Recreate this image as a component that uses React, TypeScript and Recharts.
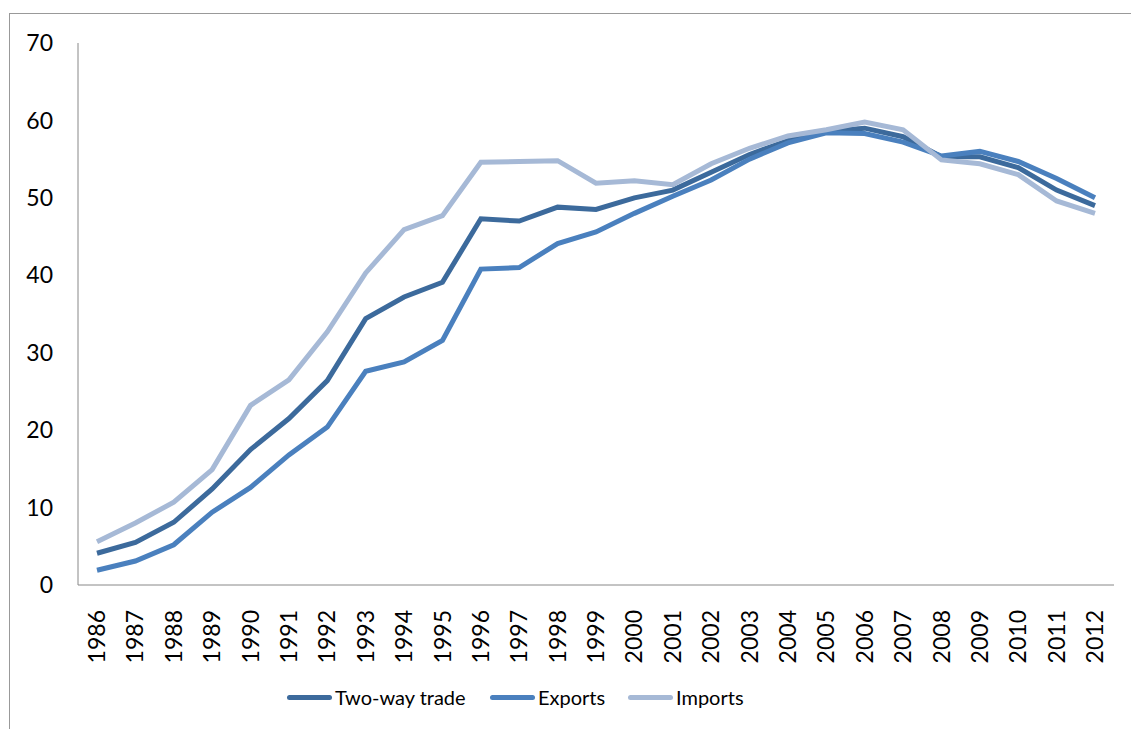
import React from 'react';
import { LineChart, Line, XAxis, YAxis, Legend } from 'recharts';

const years = [
  '1986', '1987', '1988', '1989', '1990', '1991', '1992', '1993', '1994',
  '1995', '1996', '1997', '1998', '1999', '2000', '2001', '2002', '2003',
  '2004', '2005', '2006', '2007', '2008', '2009', '2010', '2011', '2012',
];

const twoWayTrade = [
  4.1, 5.5, 8.1, 12.4, 17.5, 21.5, 26.4, 34.4, 37.2, 39.1, 47.3, 47.0, 48.8, 48.5,
  50.0, 51.0, 53.3, 55.6, 57.4, 58.6, 59.0, 57.9, 55.3, 55.3, 53.9, 51.0, 49.0,
];

const exportsShare = [
  1.9, 3.1, 5.2, 9.4, 12.6, 16.8, 20.4, 27.6, 28.8, 31.6, 40.8, 41.0, 44.1, 45.6,
  48.0, 50.2, 52.3, 55.0, 57.1, 58.4, 58.3, 57.2, 55.4, 56.0, 54.7, 52.5, 50.0,
];

const importsShare = [
  5.6, 8.0, 10.7, 14.9, 23.2, 26.5, 32.7, 40.3, 45.9, 47.7, 54.6, 54.7, 54.8, 51.9,
  52.2, 51.7, 54.4, 56.4, 58.0, 58.8, 59.8, 58.8, 54.9, 54.4, 53.0, 49.6, 48.0,
];

const yTicks = [0, 10, 20, 30, 40, 50, 60, 70];

const data = years.map((year, i) => ({
  year,
  twoWay: twoWayTrade[i],
  exports: exportsShare[i],
  imports: importsShare[i],
}));

const FONT = 'Lato, "Open Sans", sans-serif';

const series = [
  { key: 'twoWay', name: 'Two-way trade', color: '#3C6A9C', itemWidth: 203 },
  { key: 'exports', name: 'Exports', color: '#4A80BE', itemWidth: 138 },
  { key: 'imports', name: 'Imports', color: '#A6B9D6', itemWidth: 130 },
];

const YearTick = (props: any) => {
  const { x, y, payload } = props;
  return (
    <text
      transform={`translate(${x},${y + 17}) rotate(-90)`}
      textAnchor="end"
      dy="0.35em"
      fontSize={23}
      fontFamily={FONT}
      fill="#000"
    >
      {payload.value}
    </text>
  );
};

const LegendContent = () => (
  <div
    style={{
      height: 64,
      display: 'flex',
      alignItems: 'center',
      paddingLeft: 287,
      fontFamily: FONT,
      fontSize: 20,
      color: '#000',
    }}
  >
    {series.map((s) => (
      <div key={s.key} style={{ display: 'flex', alignItems: 'center', width: s.itemWidth }}>
        <span
          style={{
            display: 'inline-block',
            width: 45,
            height: 5,
            borderRadius: 3,
            background: s.color,
            marginRight: 3,
          }}
        />
        <span>{s.name}</span>
      </div>
    ))}
  </div>
);

export default function App() {
  return (
    <div style={{ position: 'fixed', left: 0, top: 0, width: 1131, height: 729, background: '#fff' }}>
      <div
        style={{
          position: 'absolute',
          left: 9,
          top: 13,
          width: 1300,
          height: 900,
          borderTop: '1px solid #999',
          borderLeft: '1px solid #999',
        }}
      />
      <div style={{ position: 'absolute', left: 0, top: 0 }}>
        <LineChart
          width={1131}
          height={729}
          data={data}
          margin={{ top: 43, right: 17, left: 0, bottom: 0 }}
        >
          <XAxis
            dataKey="year"
            interval={0}
            height={80}
            padding={{ left: 19, right: 19 }}
            tickLine={false}
            stroke="#888"
            tick={<YearTick />}
          />
          <YAxis
            width={78}
            domain={[0, 70]}
            ticks={yTicks}
            tickLine={false}
            tickSize={0}
            tickMargin={25}
            stroke="#888"
            tick={{ fill: '#000', fontSize: 23, fontFamily: FONT }}
          />
          <Legend verticalAlign="bottom" content={<LegendContent />} />
          {series.map((s) => (
            <Line
              key={s.key}
              type="linear"
              dataKey={s.key}
              name={s.name}
              stroke={s.color}
              strokeWidth={5}
              dot={false}
              isAnimationActive={false}
            />
          ))}
        </LineChart>
      </div>
    </div>
  );
}
